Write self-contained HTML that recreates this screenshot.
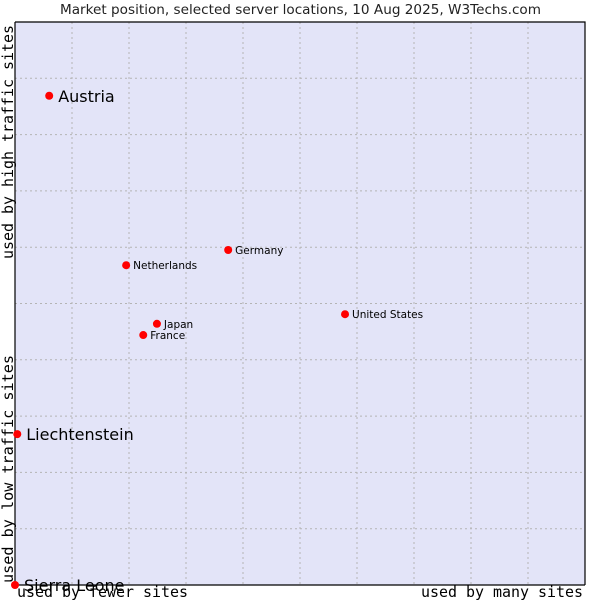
<!DOCTYPE html>
<html><head><meta charset="utf-8"><style>
body{margin:0;background:#fff;width:600px;height:600px;overflow:hidden}
svg{display:block}
</style></head><body>
<svg width="600" height="600">
<text x="60" y="14" textLength="481" lengthAdjust="spacingAndGlyphs" font-family="DejaVu Sans, sans-serif" font-size="13.5" fill="#222">Market position, selected server locations, 10 Aug 2025, W3Techs.com</text>
<rect x="15" y="22" width="570" height="563" fill="#e3e4f8"/>
<g id="grid"></g>
<path d="M15 22 H585 V585 M15 22 V585 H585" fill="none" stroke="#000" stroke-width="1.2"/>
<g id="pts"></g>
<text x="17" y="597" textLength="171" lengthAdjust="spacingAndGlyphs" font-family="DejaVu Sans Mono, monospace" font-size="15" fill="#000">used by fewer sites</text>
<text x="421" y="597" textLength="162" lengthAdjust="spacingAndGlyphs" font-family="DejaVu Sans Mono, monospace" font-size="15" fill="#000">used by many sites</text>
<text transform="translate(13,583) rotate(-90)" textLength="228" lengthAdjust="spacingAndGlyphs" font-family="DejaVu Sans Mono, monospace" font-size="15" fill="#000">used by low traffic sites</text>
<text transform="translate(13,259) rotate(-90)" textLength="234" lengthAdjust="spacingAndGlyphs" font-family="DejaVu Sans Mono, monospace" font-size="15" fill="#000">used by high traffic sites</text>
</svg>
<script>
const names=["Austria","Liechtenstein","Sierra Leone","Netherlands","Germany","Japan","France","United States"];
const xs=[0.6,0.04,0,1.95,3.74,2.49,2.25,5.79];
const ys=[8.69,2.68,0,5.68,5.95,4.64,4.44,4.81];
const big=[true,true,true,false,false,false,false,false];
const NS="http://www.w3.org/2000/svg";
const X=v=>15+v*57, Y=v=>585-v*56.3;
const g=document.getElementById('grid');
for(let i=1;i<10;i++){
 const l=document.createElementNS(NS,'line');
 l.setAttribute('x1',X(i));l.setAttribute('x2',X(i));l.setAttribute('y1',22);l.setAttribute('y2',585);
 l.setAttribute('stroke','#b4b4b4');l.setAttribute('stroke-dasharray','2,3');
 
 
 g.appendChild(l);
 const h=document.createElementNS(NS,'line');
 h.setAttribute('y1',Y(i));h.setAttribute('y2',Y(i));h.setAttribute('x1',15);h.setAttribute('x2',585);
 h.setAttribute('stroke','#b4b4b4');h.setAttribute('stroke-dasharray','2,3');
 
 
 g.appendChild(h);
}
const p=document.getElementById('pts');
names.forEach((n,i)=>{
 const cx=X(xs[i]),cy=Y(ys[i]);
 const c=document.createElementNS(NS,'circle');
 c.setAttribute('cx',cx);c.setAttribute('cy',cy);c.setAttribute('r',4);c.setAttribute('fill','#f00');
 
 
 p.appendChild(c);
 const t=document.createElementNS(NS,'text');
 t.setAttribute('x',cx+(big[i]?9:7));t.setAttribute('y',cy+(big[i]?6:4));
 t.setAttribute('font-family','DejaVu Sans, sans-serif');t.setAttribute('font-size',big[i]?16:10.5);
 t.setAttribute('fill','#000');t.textContent=n;
 
 
 p.appendChild(t);
});
</script>
</body></html>
